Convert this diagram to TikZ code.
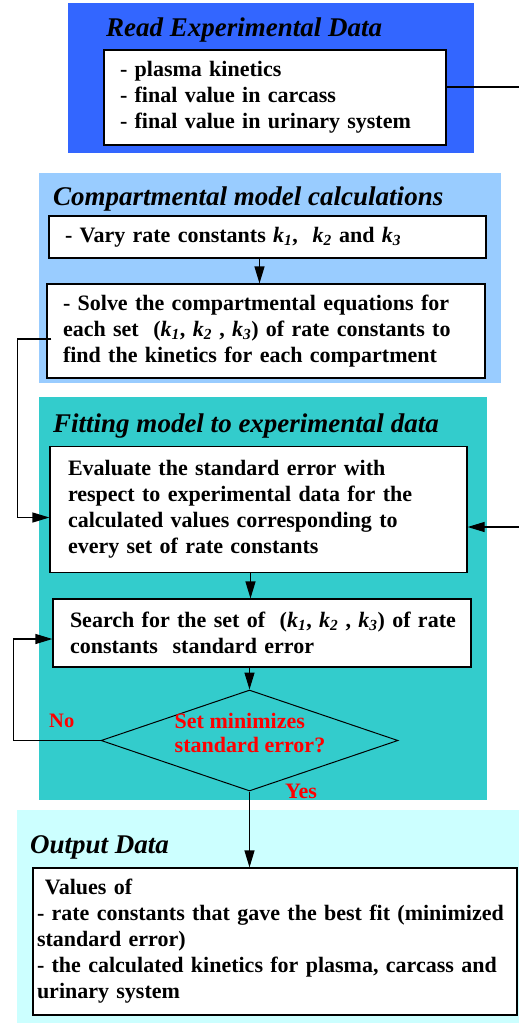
\documentclass[tikz,border=0pt]{standalone}
\usepackage{fontspec}
\setmainfont{Liberation Serif}
\definecolor{readblue}{RGB}{51, 102, 255}
\definecolor{modelblue}{RGB}{153, 204, 255}
\definecolor{fitteal}{RGB}{51, 204, 204}
\definecolor{outcyan}{RGB}{204, 255, 255}
\definecolor{answerred}{RGB}{255, 0, 0}
\usetikzlibrary{shapes, arrows.meta, positioning, calc}
\newcommand{\kc}[1]{\textit{k}\textsubscript{\textit{#1}}}
\tikzset{
  stepbox/.style={draw, line width=1.2pt, fill=white, align=left, inner xsep=16pt,
    font=\fontsize{22}{26}\selectfont\bfseries},
  paneltitle/.style={anchor=base west, inner sep=0pt,
    font=\fontsize{27}{30}\selectfont\bfseries\itshape},
  flow/.style={line width=1.2pt, -{Triangle[length=17pt, width=10pt]}},
  answer/.style={text=answerred, font=\fontsize{22}{24}\selectfont\bfseries},
}

\begin{document}
\begin{tikzpicture}[x=1pt, y=-1pt]
          \useasboundingbox (0, 0) rectangle (519, 1026);
          \fill[readblue]  (68, 3) rectangle (474, 153);
          \fill[modelblue] (39, 173) rectangle (501, 383);
          \fill[fitteal]   (39, 397) rectangle (487, 800);
          \fill[outcyan]   (17, 810) rectangle (519, 1023);
          \node[paneltitle] (readttl)  at (106, 36)  {Read Experimental Data};
          \node[paneltitle] (modelttl) at (53, 205)  {Compartmental model calculations};
          \node[paneltitle] (fitttl)   at (53, 432)  {Fitting model to experimental data};
          \node[paneltitle] (outttl)   at (30, 853)  {Output Data};
          \node[stepbox, text width=310pt, minimum height=95pt] (read) at (275, 97.5)
            {- plasma kinetics\\- final value in carcass\\- final value in urinary system};
          \node[stepbox, text width=405pt, minimum height=42pt] (vary) at (267.5, 237)
            {- Vary rate constants \kc{1},~ \kc{2} and \kc{3}};
          \node[stepbox, text width=406pt, minimum height=94pt] (solve) at (266, 331)
            {- Solve the compartmental equations for\\each set~ (\kc{1}, \kc{2} , \kc{3}) of rate constants to\\find the kinetics for each compartment};
          \node[stepbox, inner xsep=18pt, text width=381pt, minimum height=126pt] (eval) at (258.5, 509.5)
            {Evaluate the standard error with\\respect to experimental data for the\\calculated values corresponding to\\every set of rate constants};
          \node[stepbox, inner xsep=17pt, text width=384pt, minimum height=68pt] (search) at (262, 633)
            {\mbox{Search for the set of~ (\kc{1}, \kc{2} , \kc{3}) of rate}\\constants~ standard error};
          \node[draw, diamond, minimum width=297pt, minimum height=101pt, line width=1pt] (decide) at (249.5, 740.5) {};
          \node[answer, align=left, inner sep=0pt] (question) at (250, 733) {Set minimizes\\standard error?};
          \node[stepbox, inner xsep=4pt, text width=476pt, minimum height=147pt] (output) at (275, 941.5)
            {\hspace*{8pt}Values of\\- rate constants that gave the best fit (minimized\\standard error)\\- the calculated kinetics for plasma, carcass and\\urinary system};
          \node[answer, anchor=base west, inner sep=0pt, font=\fontsize{20.5}{24}\selectfont\bfseries] (no) at (49, 727) {No};
          \node[answer, anchor=base west, inner sep=0pt] (yes) at (285, 798) {Yes};
          \coordinate (dataout) at (519, 87);
          \coordinate (datain)  at (519, 527);
          \draw[line width=1.2pt] (read.east |- dataout) -- (dataout);
          \draw[flow] (datain) -- (datain -| eval.east);
          \draw[flow] ([xshift=-8pt]vary.south) -- ([xshift=-8pt]vary.south |- solve.north);
          \draw[flow] ([xshift=5pt, yshift=-8pt]solve.west) -- ++(-34, 0) |- ([yshift=-8pt]eval.west);
          \draw[flow] ([xshift=-8pt]eval.south) -- ([xshift=-8pt]eval.south |- search.north);
          \draw[flow] (search.south -| decide.north) -- (decide.north);
          \draw[flow] (decide.west) -- ++(-87, 0) |- ([yshift=-6pt]search.west);
          \draw[flow] (decide.south) -- (decide.south |- output.north);
        \end{tikzpicture}
\end{document}
